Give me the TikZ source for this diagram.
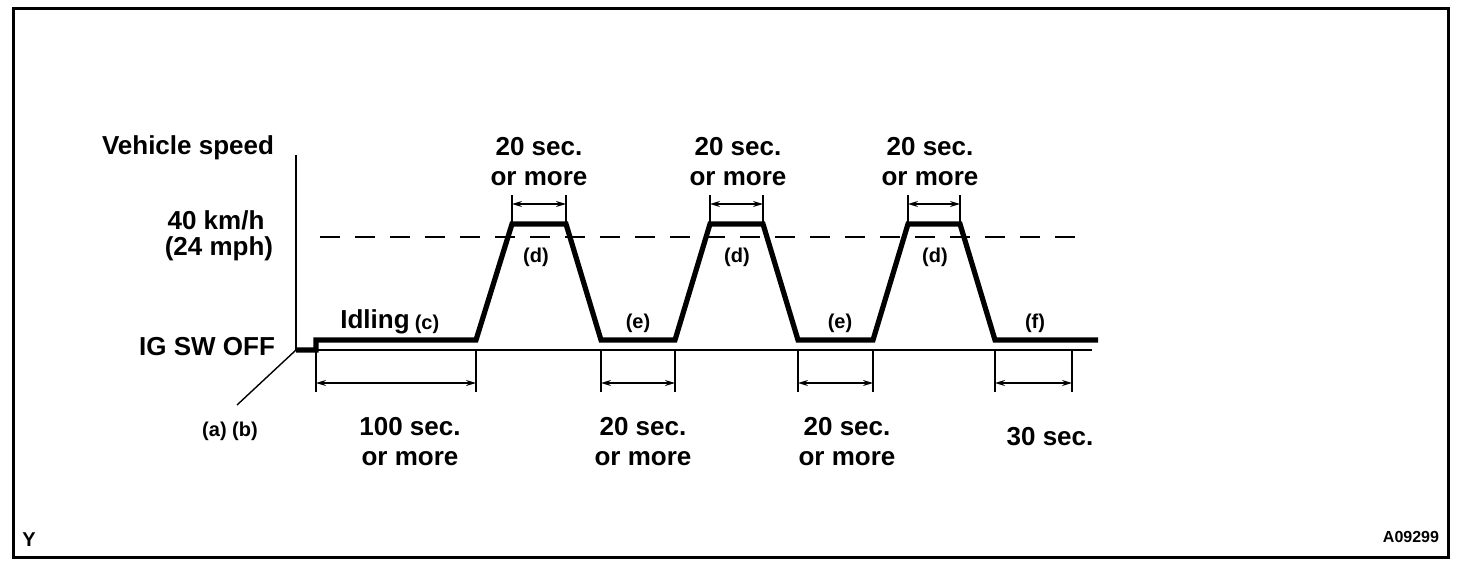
\documentclass[tikz,border=0pt]{standalone}
\usepackage{fontspec}
\setmainfont{Liberation Sans}
\usetikzlibrary{arrows.meta}

\begin{document}
\begin{tikzpicture}[
    x=0.5pt, y=-0.5pt,
    trace/.style={line width=2.6pt, line join=miter},
    axisline/.style={line width=0.7pt},
    dim/.style={line width=0.7pt, {Stealth[length=5pt,width=3pt]}-{Stealth[length=5pt,width=3pt]}},
    lbl/.style={font=\fontsize{13}{15}\bfseries, align=center, inner sep=0pt},
    tag/.style={font=\fontsize{10}{12}\bfseries, inner sep=0pt}
]
\useasboundingbox (0,0) rectangle (1472,572);
\draw[line width=1.5pt] (13,9) rectangle (1448,557);

% axes
\coordinate (o) at (296,350);
\coordinate (top) at (296,155);
\coordinate (end) at (1092,350);
\draw[axisline] (top) -- (o) -- (end);

% speed trace
\coordinate (s0) at (316,350);
\coordinate (s1) at (316,340);
\foreach \i/\r/\t/\u/\f in {1/476/512/566/601, 2/675/710/763/798, 3/873/908/960/995} {
    \coordinate (r\i) at (\r,340);
    \coordinate (t\i) at (\t,224);
    \coordinate (u\i) at (\u,224);
    \coordinate (f\i) at (\f,340);
}
\coordinate (stop) at (1098,340);
\draw[trace] (o) -- (s0) -- (s1) -- (r1) -- (t1) -- (u1) -- (f1)
    -- (r2) -- (t2) -- (u2) -- (f2) -- (r3) -- (t3) -- (u3) -- (f3) -- (stop);

% 40 km/h level
\coordinate (d0) at (320,237);
\coordinate (d1) at (1089,237);
\draw[line width=1.3pt, dash pattern=on 10pt off 7.5pt] (d0) -- (d1);

% time spans below
\foreach \a/\b in {316/476, 601/675, 798/873, 995/1072} {
    \draw[axisline] (\a,350) -- (\a,392) (\b,350) -- (\b,392);
    \draw[dim] (\a,383) -- (\b,383);
}
% time spans above
\foreach \i in {1,2,3} {
    \draw[axisline] (t\i) -- ++(0,-29) (u\i) -- ++(0,-29);
    \draw[dim] ([yshift=10pt]t\i) -- ([yshift=10pt]u\i);
}

\node[lbl] (speed) at (188,148) {Vehicle speed};
\node[lbl] (kmh) at (216,220) {40 km/h};
\node[lbl] (mph) at (219,249) {(24 mph)};
\node[lbl] (igoff) at (207,347) {IG SW OFF};
\node[tag] (ab) at (230,431) {(a) (b)};
\coordinate (lead) at (237,405);
\draw[axisline] (o) -- (lead);

\node[lbl] (idle) at (375,322) {Idling};
\node[tag] (c) at (427,324) {(c)};
\foreach \x in {536,737,935} \node[tag] at (\x,257) {(d)};
\node[tag] (e1) at (638,323) {(e)};
\node[tag] (e2) at (840,323) {(e)};
\node[tag] (f) at (1035,323) {(f)};

\node[lbl] (top1) at (539,162) {20 sec.\\or more};
\node[lbl] (top2) at (738,162) {20 sec.\\or more};
\node[lbl] (top3) at (930,162) {20 sec.\\or more};

\node[lbl] (low1) at (410,442) {100 sec.\\or more};
\node[lbl] (low2) at (643,442) {20 sec.\\or more};
\node[lbl] (low3) at (847,442) {20 sec.\\or more};
\node[lbl] (low4) at (1050,437) {30 sec.};

\node[tag] (y) at (29,540) {Y};
\node[tag, font=\fontsize{8}{9}\bfseries] (code) at (1411,537) {A09299};
\end{tikzpicture}
\end{document}
